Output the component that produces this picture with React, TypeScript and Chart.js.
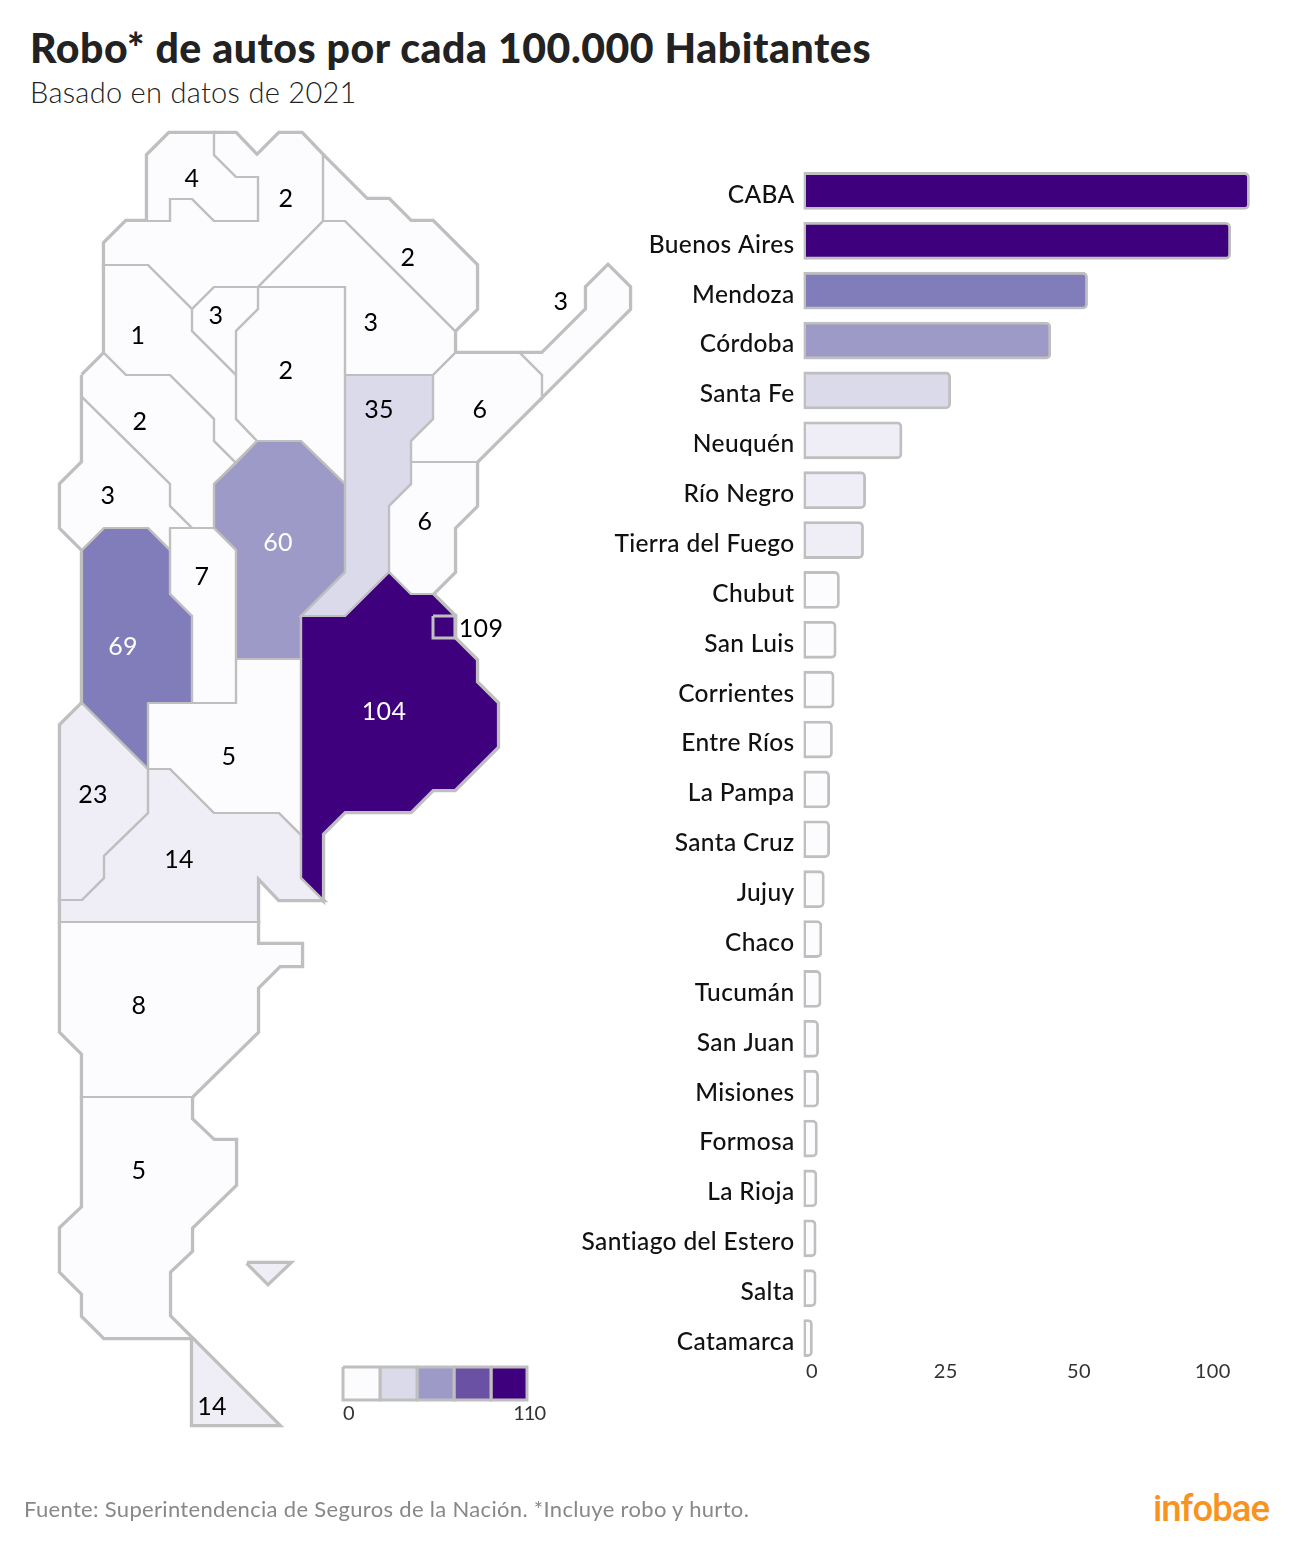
import React, { useEffect, useRef } from "react";
import { Chart, registerables } from "chart.js";

Chart.register(...registerables);

// ---- bar chart data ----
const barCategories = ["CABA", "Buenos Aires", "Mendoza", "Córdoba", "Santa Fe", "Neuquén", "Río Negro", "Tierra del Fuego", "Chubut", "San Luis", "Corrientes", "Entre Ríos", "La Pampa", "Santa Cruz", "Jujuy", "Chaco", "Tucumán", "San Juan", "Misiones", "Formosa", "La Rioja", "Santiago del Estero", "Salta", "Catamarca"];
const barValues = [109.1, 104.5, 69.5, 60.5, 36, 24.1, 15.2, 14.7, 8.8, 8, 7.5, 7.1, 6.4, 6.4, 5.1, 4.5, 4.3, 3.7, 3.7, 3.4, 3.3, 3.1, 3.1, 2.2];
const axisTickValues = [2.1, 34.8, 67.4, 100.1];
const axisTickLabels = ["0", "25", "50", "100"];

// ---- map data ----
const mapValues = [109, 104, 69, 60, 35, 23, 14, 14, 8, 7, 6, 6, 5, 5, 4, 3, 3, 3, 3, 2, 2, 2, 2, 1];
const mapLabelX = [481, 384, 123, 278, 379, 93, 179, 212, 139, 202, 480, 425, 229, 139, 192, 371, 216, 108, 561, 408, 140, 286, 286, 138];
const mapLabelY = [629, 712, 647, 543, 410, 795, 860, 1407, 1006, 577, 410, 522, 757, 1171, 179, 323, 316, 496, 302, 258, 422, 371, 199, 336];

const polyCaba = [[433, 616], [455, 616], [455, 638], [433, 638]];
const polyBuenosAires = [[301, 616], [345, 616], [389, 572], [411, 594], [433, 594], [455, 616], [455, 638], [477, 660], [477, 682], [498, 703], [498, 747], [455, 790], [433, 790], [411, 812], [345, 812], [323, 834], [323, 900], [301, 878]];
const polyMendoza = [[82, 550], [104, 528], [148, 528], [170, 550], [170, 594], [192, 616], [192, 703], [148, 703], [148, 769], [82, 703]];
const polyCordoba = [[257, 441], [301, 441], [345, 484], [345, 572], [301, 616], [301, 659], [236, 659], [236, 550], [214, 528], [214, 484]];
const polySantaFe = [[345, 375], [433, 375], [433, 419], [411, 441], [411, 484], [389, 506], [389, 572], [345, 616], [301, 616], [345, 572]];
const polyNeuquen = [[82, 703], [148, 769], [148, 813], [104, 856], [104, 878], [82, 900], [60, 900], [60, 725]];
const polyRioNegro = [[148, 769], [170, 769], [214, 813], [279, 813], [301, 835], [301, 878], [323, 900], [279, 900], [258, 878], [258, 922], [60, 922], [60, 900], [82, 900], [104, 878], [104, 856], [148, 813]];
const polyTierraDelFuego = [[192, 1338], [279, 1425], [192, 1425]];
const polyMalvinas = [[247, 1263], [290, 1263], [268, 1284]];
const polyChubut = [[60, 922], [258, 922], [258, 944], [302, 944], [302, 966], [280, 966], [258, 988], [258, 1032], [192, 1097], [82, 1097], [82, 1054], [60, 1032]];
const polySanLuis = [[170, 528], [214, 528], [236, 550], [236, 703], [192, 703], [192, 616], [170, 594]];
const polyCorrientes = [[433, 375], [455, 353], [520, 353], [542, 375], [542, 397], [477, 462], [411, 462], [411, 441], [433, 419]];
const polyEntreRios = [[411, 462], [477, 462], [477, 506], [455, 528], [455, 572], [433, 594], [411, 594], [389, 572], [389, 506], [411, 484]];
const polyLaPampa = [[148, 703], [192, 703], [236, 703], [236, 659], [301, 659], [301, 835], [279, 813], [214, 813], [170, 769], [148, 769]];
const polySantaCruz = [[82, 1097], [192, 1097], [192, 1119], [214, 1140], [236, 1140], [236, 1185], [192, 1228], [192, 1251], [170, 1272], [170, 1316], [192, 1338], [104, 1338], [82, 1316], [82, 1294], [60, 1272], [60, 1228], [82, 1207]];
const polyJujuy = [[147, 221], [147, 155], [169, 133], [214, 133], [214, 155], [236, 177], [258, 177], [258, 221], [214, 221], [192, 199], [170, 199], [170, 221]];
const polyChaco = [[345, 221], [455, 331], [455, 353], [433, 375], [345, 375], [345, 287], [258, 287], [323, 221]];
const polyTucuman = [[214, 287], [258, 287], [258, 309], [236, 331], [236, 375], [192, 331], [192, 309]];
const polySanJuan = [[82, 397], [170, 484], [170, 506], [192, 528], [170, 528], [170, 550], [148, 528], [104, 528], [82, 550], [60, 528], [60, 484], [82, 462]];
const polyMisiones = [[520, 353], [542, 353], [586, 309], [586, 287], [608, 265], [630, 287], [630, 309], [542, 397], [542, 375]];
const polyFormosa = [[323, 155], [367, 199], [389, 199], [411, 221], [433, 221], [477, 265], [477, 309], [455, 331], [345, 221], [323, 221]];
const polyLaRioja = [[82, 375], [104, 353], [126, 375], [170, 375], [214, 419], [214, 441], [236, 463], [214, 484], [214, 528], [192, 528], [170, 506], [170, 484], [82, 397]];
const polySantiago = [[258, 287], [345, 287], [345, 484], [301, 441], [257, 441], [236, 419], [236, 331], [258, 309]];
const polySalta = [[214, 133], [236, 133], [257, 155], [279, 133], [302, 133], [323, 155], [323, 221], [258, 287], [214, 287], [192, 309], [148, 265], [104, 265], [104, 243], [126, 221], [147, 221], [170, 221], [170, 199], [192, 199], [214, 221], [258, 221], [258, 177], [236, 177], [214, 155]];
const polyCatamarca = [[104, 265], [148, 265], [192, 309], [192, 331], [236, 375], [236, 419], [257, 441], [236, 463], [214, 441], [214, 419], [170, 375], [126, 375], [104, 353]];

const mapPolygons = [polyCaba, polyBuenosAires, polyMendoza, polyCordoba, polySantaFe, polyNeuquen, polyRioNegro, polyTierraDelFuego, polyChubut, polySanLuis, polyCorrientes, polyEntreRios, polyLaPampa, polySantaCruz, polyJujuy, polyChaco, polyTucuman, polySanJuan, polyMisiones, polyFormosa, polyLaRioja, polySantiago, polySalta, polyCatamarca];
const malvinasValue = 14;

// ---- colour legend ----
const legendBreaks = [343, 380, 417, 454, 491, 527];
const legendColors = ["#fcfbfd", "#dadaeb", "#9e9ac8", "#6a51a3", "#3f007d"];
const legendTop = 1367;
const legendBottom = 1400;
const legendLabels = ["0", "110"];

const STROKE = "#bfbfbf";
const FONT = "Lato, sans-serif";

function colorFor(v: number) {
  if (v >= 100) return "#3f007d";
  if (v >= 65) return "#807dba";
  if (v >= 50) return "#9e9ac8";
  if (v >= 30) return "#dadaeb";
  if (v >= 14) return "#efedf5";
  return "#fcfbfd";
}

function toPoints(poly: number[][]) {
  return [...poly, poly[0]].map(([x, y]) => ({ x, y }));
}

function polygonLayers(poly: number[][], color: string, topWidth = 2.2) {
  const data = toPoints(poly);
  const base = { data, showLine: true, pointRadius: 0, tension: 0, borderJoinStyle: "miter" as const, borderCapStyle: "butt" as const };
  return [
    { ...base, order: 3, borderColor: STROKE, borderWidth: 4.4, fill: false },
    { ...base, order: 2, borderWidth: 0, borderColor: "transparent", backgroundColor: color, fill: "shape" },
    { ...base, order: 1, borderColor: STROKE, borderWidth: topWidth, fill: false },
  ];
}

const mapTextPlugin = {
  id: "mapText",
  afterDatasetsDraw(chart: any) {
    const { ctx, scales } = chart;
    ctx.save();
    ctx.font = `400 25px ${FONT}`;
    ctx.letterSpacing = "0.3px";
    ctx.textAlign = "center";
    ctx.textBaseline = "middle";
    mapValues.forEach((v, i) => {
      ctx.fillStyle = v >= 60 && v < 109 ? "#ffffff" : "#000000";
      ctx.fillText(String(v), scales.x.getPixelForValue(mapLabelX[i]), scales.y.getPixelForValue(mapLabelY[i]));
    });
    ctx.font = `400 20px ${FONT}`;
    ctx.fillStyle = "#333333";
    ctx.letterSpacing = "0px";
    ctx.textAlign = "left";
    ctx.fillText(legendLabels[0], scales.x.getPixelForValue(legendBreaks[0]), scales.y.getPixelForValue(1414));
    ctx.letterSpacing = "-1px";
    ctx.textAlign = "right";
    ctx.fillText(legendLabels[1], scales.x.getPixelForValue(legendBreaks[5] + 18), scales.y.getPixelForValue(1414));
    ctx.restore();
  },
};

const spacingPlugin = {
  id: "labelSpacing",
  beforeDraw(chart: any) {
    chart.ctx.letterSpacing = "0.35px";
  },
};

export default function App() {
  const mapRef = useRef<HTMLCanvasElement>(null);
  const barRef = useRef<HTMLCanvasElement>(null);

  useEffect(() => {
    const datasets: any[] = [];
    mapPolygons.forEach((p, i) => datasets.push(...polygonLayers(p, colorFor(mapValues[i]), p === polyCaba ? 3 : 2.2)));
    datasets.push(...polygonLayers(polyMalvinas, colorFor(malvinasValue)));
    legendColors.forEach((c, i) => {
      const l = legendBreaks[i], r = legendBreaks[i + 1];
      datasets.push({
        data: toPoints([[l, legendTop], [r, legendTop], [r, legendBottom], [l, legendBottom]]),
        showLine: true, pointRadius: 0, order: 1, borderColor: STROKE, borderWidth: 3,
        borderJoinStyle: "miter", backgroundColor: c, fill: "shape",
      });
    });

    const mapChart = new Chart(mapRef.current!, {
      type: "scatter",
      data: { datasets },
      options: {
        animation: false,
        responsive: false,
        devicePixelRatio: 1,
        layout: { padding: 0 },
        events: [],
        plugins: { legend: { display: false }, tooltip: { enabled: false } },
        scales: {
          x: { type: "linear", min: 0, max: 640, display: false },
          y: { type: "linear", min: 0, max: 1545, reverse: true, display: false },
        },
      },
      plugins: [mapTextPlugin],
    } as any);

    const barChart = new Chart(barRef.current!, {
      type: "bar",
      data: {
        labels: barCategories,
        datasets: [{
          data: barValues,
          backgroundColor: mapValues.map(colorFor),
          borderColor: STROKE,
          borderWidth: 2.8,
          borderSkipped: false,
          borderRadius: { topLeft: 0, bottomLeft: 0, topRight: 5, bottomRight: 5 },
          barThickness: 37,
        }],
      },
      options: {
        indexAxis: "y",
        animation: false,
        responsive: false,
        devicePixelRatio: 1,
        layout: { padding: { top: 0, right: 10, bottom: 0, left: 0 } },
        events: [],
        plugins: { legend: { display: false }, tooltip: { enabled: false } },
        scales: {
          x: {
            type: "linear",
            min: 0,
            max: 119,
            grid: { display: false, drawTicks: false },
            border: { display: false },
            afterFit(s: any) { s.height = 40; s.paddingLeft = 0; s.paddingRight = 0; },
            afterBuildTicks(s: any) { s.ticks = axisTickValues.map((value) => ({ value })); },
            ticks: {
              padding: -3,
              maxRotation: 0,
              autoSkip: false,
              color: "#333333",
              font: { family: FONT, size: 20, weight: "400" },
              callback(_v: any, i: number) { return axisTickLabels[i]; },
            },
          },
          y: {
            type: "category",
            grid: { display: false, drawTicks: false },
            border: { display: false },
            afterFit(s: any) { s.width = 243.5; s.paddingTop = 0; s.paddingBottom = 0; },
            ticks: {
              padding: 9,
              labelOffset: 4,
              autoSkip: false,
              color: "#111111",
              font: { family: FONT, size: 24.5, weight: "500" },
            },
          },
        },
      },
      plugins: [spacingPlugin],
    } as any);

    return () => {
      mapChart.destroy();
      barChart.destroy();
    };
  }, []);

  const abs: React.CSSProperties = { position: "absolute", margin: 0, whiteSpace: "nowrap", fontFamily: FONT };
  return (
    <div style={{ position: "absolute", left: 0, top: 0, width: 1300, height: 1545, background: "#fff", overflow: "hidden" }}>
      <div style={{ ...abs, left: 30, top: 24, fontSize: 41, fontWeight: 900, color: "#222", lineHeight: "48px", letterSpacing: 0.55 }}>Robo* de autos por cada 100.000 Habitantes</div>
      <div style={{ ...abs, left: 30, top: 75, fontSize: 29, fontWeight: 300, color: "#222", lineHeight: "34px", letterSpacing: 0.3 }}>Basado en datos de 2021</div>
      <canvas ref={mapRef} width={640} height={1545} style={{ position: "absolute", left: 0, top: 0 }} />
      <canvas ref={barRef} width={740} height={1237} style={{ position: "absolute", left: 560, top: 166 }} />
      <div style={{ ...abs, left: 24, top: 1495, fontSize: 22, fontWeight: 400, color: "#888", lineHeight: "28px", letterSpacing: 0.32 }}>Fuente: Superintendencia de Seguros de la Nación. *Incluye robo y hurto.</div>
      <div style={{ ...abs, left: 1153, top: 1488, fontSize: 36.5, fontWeight: 500, color: "#f7931e", fontFamily: "Roboto, sans-serif", letterSpacing: -1, lineHeight: "42px" }}>infobae</div>
    </div>
  );
}
